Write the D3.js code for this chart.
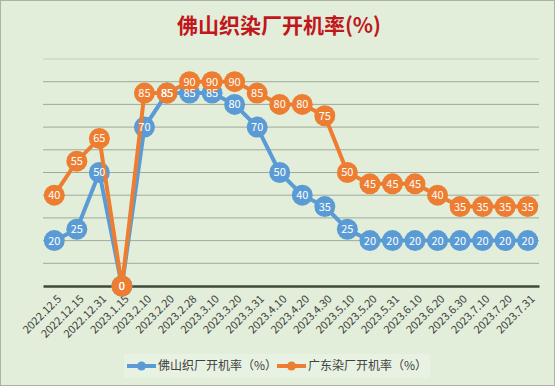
<!DOCTYPE html>
<html>
<head>
<meta charset="utf-8">
<script src="https://cdn.jsdelivr.net/npm/d3@7"></script>
<style>
  body { margin: 0; background: #fff; }
  svg text { font-family: "Noto Sans CJK SC", "DejaVu Sans", sans-serif; }
</style>
</head>
<body>
<div id="chart"></div>
<script>
var dates = ["2022.12.5","2022.12.15","2022.12.31","2023.1.15","2023.2.10","2023.2.20",
  "2023.2.28","2023.3.10","2023.3.20","2023.3.31","2023.4.10","2023.4.20","2023.4.30",
  "2023.5.10","2023.5.20","2023.5.31","2023.6.10","2023.6.20","2023.6.30","2023.7.10",
  "2023.7.20","2023.7.31"];
var foshan = [20,25,50,0,70,85,85,85,80,70,50,40,35,25,20,20,20,20,20,20,20,20];
var guangdong = [40,55,65,0,85,85,90,90,90,85,80,80,75,50,45,45,45,40,35,35,35,35];
var seriesNames = ["佛山织厂开机率（%）", "广东染厂开机率（%）"];
var colors = ["#5b9bd5", "#ed7d31"];
var yTicks = [0,10,20,30,40,50,60,70,80,90,100];

var width = 555, height = 386;

var svg = d3.select('#chart')
  .append('svg')
  .attr('width', width)
  .attr('height', height);

// background + border
svg.append('rect')
  .attr('x', 0.5).attr('y', 0.5)
  .attr('width', width - 1).attr('height', height - 1)
  .attr('fill', '#e2eed9')
  .attr('stroke', '#a9b4a6');

svg.append('text')
  .attr('x', 279).attr('y', 33)
  .attr('text-anchor', 'middle')
  .attr('fill', '#c0161c')
  .style('font-size', '21px')
  .style('font-weight', 'bold')
  .text('佛山织染厂开机率(%)');

var x = d3.scaleBand()
  .domain(dates)
  .range([43, 539]);

var y = d3.scaleLinear()
  .domain([0, 100])
  .range([286, 59]);

var g = svg.append('g');

// gridlines
g.selectAll('line.grid')
  .data(yTicks.slice(1))
  .enter()
  .append('line')
  .attr('class', 'grid')
  .attr('x1', 43).attr('x2', 539)
  .attr('y1', function(d){ return y(d); })
  .attr('y2', function(d){ return y(d); })
  .attr('stroke', function(d){ return d == 100 ? '#c4d0c0' : '#9eab9b'; })
  .attr('stroke-width', 1);

// x axis
var xAxis = g.append('g')
  .attr('transform', 'translate(0,' + y(0) + ')')
  .call(d3.axisBottom(x).tickSize(0).tickPadding(0));
xAxis.select('.domain').attr('stroke', '#3c4a3a').attr('stroke-width', 2.5);
xAxis.selectAll('text')
  .attr('text-anchor', 'end')
  .attr('fill', '#404040')
  .style('font-size', '11px')
  .attr('transform', 'translate(5,11) rotate(-45)')
  .attr('dy', '0.35em');

var cx = function(i){ return x(dates[i]) + x.bandwidth() / 2; };

var line = d3.line()
  .x(function(d, i){ return cx(i); })
  .y(function(d){ return y(d); });

var series = [foshan, guangdong];

series.forEach(function(vals, k) {
  var s = g.append('g');
  s.append('path')
    .datum(vals)
    .attr('fill', 'none')
    .attr('stroke', colors[k])
    .attr('stroke-width', 4)
    .attr('d', line);
  s.selectAll('circle')
    .data(vals)
    .enter()
    .append('circle')
    .attr('cx', function(d, i){ return cx(i); })
    .attr('cy', function(d){ return y(d); })
    .attr('r', 10.5)
    .attr('fill', colors[k]);
});

// data labels on top of every series
series.forEach(function(vals, k) {
  g.append('g').selectAll('text')
    .data(vals)
    .enter()
    .append('text')
    .attr('x', function(d, i){ return cx(i); })
    .attr('y', function(d){ return y(d); })
    .attr('text-anchor', 'middle')
    .attr('dy', '0.36em')
    .attr('fill', '#fff')
    .style('font-size', '11px')
    .text(function(d){ return d; });
});

// legend
var leg = svg.append('g');
leg.append('rect')
  .attr('x', 124).attr('y', 354)
  .attr('width', 306).attr('height', 24)
  .attr('fill', '#e8f2e2');
[127, 277].forEach(function(lx, k) {
  leg.append('line')
    .attr('x1', lx).attr('x2', lx + 29)
    .attr('y1', 366).attr('y2', 366)
    .attr('stroke', colors[k]).attr('stroke-width', 4);
  leg.append('circle')
    .attr('cx', lx + 14.5).attr('cy', 366).attr('r', 4.5)
    .attr('fill', colors[k]);
  leg.append('text')
    .attr('x', lx + 31).attr('y', 366)
    .attr('dy', '0.36em')
    .attr('fill', '#404040')
    .style('font-size', '12px')
    .text(seriesNames[k]);
});
</script>
</body>
</html>
